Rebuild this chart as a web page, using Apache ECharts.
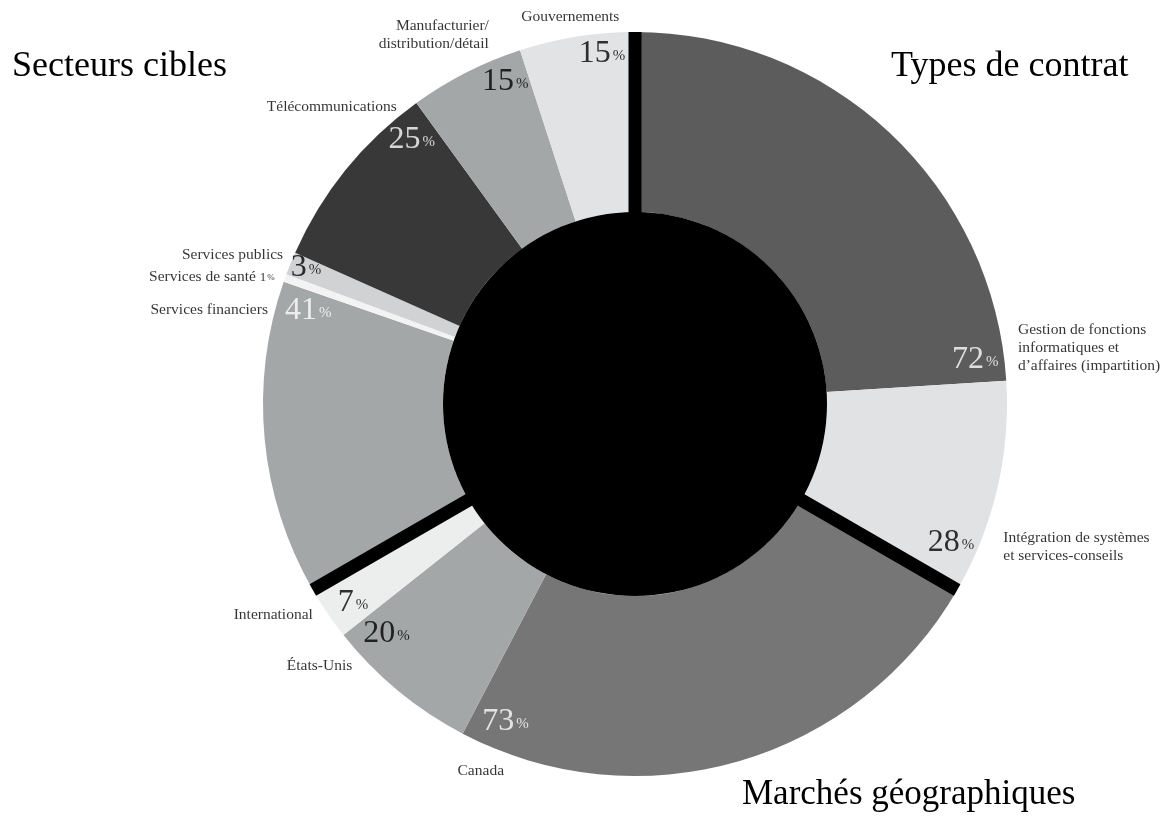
<!DOCTYPE html>
<html>
<head>
<meta charset="utf-8">
<script src="https://cdn.jsdelivr.net/npm/echarts@6/dist/echarts.min.js"></script>
<style>
  html, body { margin: 0; padding: 0; background: #fff; }
  #chart { width: 1172px; height: 832px; }
</style>
</head>
<body>
<div id="chart"></div>
<script>
// trois groupes, chacun = 100 % = un tiers du cercle
const groupTitles = ['Types de contrat', 'Marchés géographiques', 'Secteurs cibles'];

const contratNames = ['Gestion de fonctions\ninformatiques et\nd’affaires (impartition)', 'Intégration de systèmes\net services-conseils'];
const contratValues = [72, 28];

const marchesNames = ['Canada', 'États-Unis', 'International'];
const marchesValues = [73, 20, 7];

const secteursNames = ['Services financiers', 'Services de santé', 'Services publics', 'Télécommunications', 'Manufacturier/\ndistribution/détail', 'Gouvernements'];
const secteursValues = [41, 1, 3, 25, 15, 15];

// couleurs des tranches (même ordre)
const sliceColors = ['#5c5c5c', '#e1e2e4', '#767676', '#a4a7a8', '#eceeed', '#a4a7a8', '#f3f3f3', '#d1d2d4', '#383838', '#a4a7a8', '#e2e3e5'];
const whiteLabels = [0, 2, 5, 8];

// placement des étiquettes : [rayon px, recul en degrés depuis la fin de la tranche]
const pctLayout = [[343, 3.8], [345, 6.3], [343, 5.4], [338, 4.3], [345, 5.2], [340, 3.2], null, [356, 1.5], [346, 4.2], [348, 3.9], [352, 5.4]];
const nameLayout = [[387, 4.7, 'left'], [395, 8.8, 'left'], [398, 4.8, 'center'], [410, 1.3, 'center'], [385, 3.2, 'right'],
  [379, 4.8, 'right'], [382, 1.0, 'right'], [382, 1.1, 'right'], [381, 2.7, 'right'], [397, 3.6, 'right'], [392, 9.5, 'center']];

const CX = 635, CY = 404, R_IN = 192, R_OUT = 372;
const FONT = '"Liberation Serif", "DejaVu Serif", serif';

const names = [...contratNames, ...marchesNames, ...secteursNames];
const values = [...contratValues, ...marchesValues, ...secteursValues];
const total = values.reduce((a, b) => a + b, 0);
const degToUnit = total / 360;

// fin cumulée de chaque tranche
const ends = [];
let acc = 0;
values.forEach(v => { acc += v; ends.push(acc); });

// limites des groupes
const groupEnds = [];
let g = 0;
[contratValues, marchesValues, secteursValues].forEach(arr => {
  g += arr.reduce((a, b) => a + b, 0);
  groupEnds.push(g);
});

const sepData = [];
[0, groupEnds[0], groupEnds[1]].forEach((a, i) => {
  if (i > 0) sepData.push('-');
  sepData.push([R_IN - 2, a], [R_OUT, a]);
});

const pctData = [];
values.forEach((v, i) => {
  const l = pctLayout[i];
  if (!l) return;
  const c = whiteLabels.includes(i) ? '#fff' : '#000';
  pctData.push({
    value: [l[0], ends[i] - l[1] * degToUnit],
    label: {
      formatter: '{n|' + v + '}{p|%}',
      rich: {
        n: { fontFamily: FONT, fontSize: 32, color: c },
        p: { fontFamily: FONT, fontSize: 15, color: c, padding: [5, 0, 0, 2] }
      }
    }
  });
});

const nameData = names.map((n, i) => {
  const l = nameLayout[i];
  const txt = pctLayout[i] ? n : n + ' {s|' + values[i] + '}{q|%}';
  return {
    value: [l[0], ends[i] - l[1] * degToUnit],
    label: { formatter: txt, align: l[2] }
  };
});

const chart = echarts.init(document.getElementById('chart'));

const titleStyle = { fontFamily: FONT, fontSize: 36, fontWeight: 'normal', color: '#000' };

chart.setOption({
  backgroundColor: '#fff',
  animation: false,
  title: [
    { text: groupTitles[2], left: 12, top: 49, padding: 0, textStyle: titleStyle },
    { text: groupTitles[0], left: 891, top: 49, padding: 0, textStyle: titleStyle },
    { text: groupTitles[1], left: 742, top: 777, padding: 0, textStyle: Object.assign({}, titleStyle, { fontSize: 35 }) }
  ],
  polar: { center: [CX, CY], radius: 430 },
  angleAxis: {
    type: 'value', min: 0, max: total, startAngle: 90, clockwise: true,
    axisLine: { show: false }, axisTick: { show: false }, axisLabel: { show: false }, splitLine: { show: false }
  },
  radiusAxis: {
    type: 'value', min: 0, max: 430,
    axisLine: { show: false }, axisTick: { show: false }, axisLabel: { show: false }, splitLine: { show: false }
  },
  series: [
    {
      type: 'pie',
      center: [CX, CY],
      radius: [R_IN, R_OUT],
      startAngle: 90,
      clockwise: true,
      silent: true,
      label: { show: false },
      labelLine: { show: false },
      itemStyle: { borderWidth: 0 },
      data: names.map((n, i) => ({ name: n, value: values[i], itemStyle: { color: sliceColors[i] } }))
    },
    {
      type: 'pie',
      center: [CX, CY],
      radius: [0, R_IN],
      silent: true,
      label: { show: false },
      labelLine: { show: false },
      itemStyle: { borderWidth: 0, color: '#000' },
      data: [{ name: 'centre', value: 1 }]
    },
    {
      type: 'line',
      coordinateSystem: 'polar',
      silent: true,
      z: 5,
      symbol: 'none',
      connectNulls: false,
      lineStyle: { color: '#000', width: 13, cap: 'butt' },
      data: sepData
    },
    {
      type: 'scatter',
      coordinateSystem: 'polar',
      silent: true,
      z: 10,
      symbolSize: 1,
      itemStyle: { color: 'transparent' },
      label: { show: true, position: 'inside', align: 'center', verticalAlign: 'middle' },
      data: pctData
    },
    {
      type: 'scatter',
      coordinateSystem: 'polar',
      silent: true,
      z: 10,
      symbolSize: 1,
      itemStyle: { color: 'transparent' },
      label: {
        show: true, position: 'inside', verticalAlign: 'middle',
        fontFamily: FONT, fontSize: 15.5, lineHeight: 18, color: '#000',
        rich: {
          s: { fontFamily: FONT, fontSize: 13, color: '#000' },
          q: { fontFamily: FONT, fontSize: 9, color: '#000', padding: [2, 0, 0, 1] }
        }
      },
      data: nameData
    }
  ]
});
</script>
</body>
</html>
